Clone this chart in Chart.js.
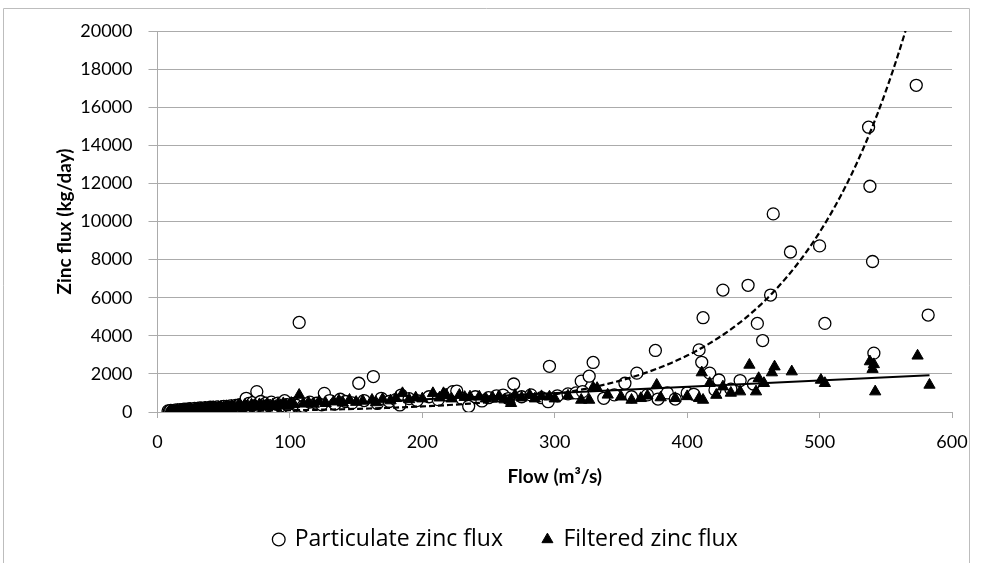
<!DOCTYPE html>
<html>
<head>
<meta charset="utf-8">
<script src="https://cdn.jsdelivr.net/npm/chart.js@4"></script>
<style>
  html, body { margin: 0; background: #fff; }
  #wrap { width: 983px; height: 563px; }
</style>
</head>
<body>
<div id="wrap"><canvas id="chart"></canvas></div>
<script>
// particulate zinc flux (open circles)
const particulateFlow = [
  8, 9, 10, 11, 12, 13, 14, 15, 16, 17, 18, 19, 20, 21, 22, 23, 24, 25, 26, 27,
  28, 29, 30, 31, 32, 33, 34, 35, 36, 37, 38, 39, 40, 41, 42, 43, 44, 45, 46, 47,
  48, 49, 50, 51, 52, 53, 54, 55, 56, 57, 58, 59, 60, 61, 62, 63, 64, 65, 66, 67,
  68, 69, 70, 71, 72, 74, 75, 76, 78, 80, 82, 84, 86, 88, 90, 91, 93, 96, 98, 100,
  103, 105, 107, 110,
  115, 120, 124, 126, 130, 134, 138, 142, 147, 152, 156, 163, 166, 169, 175, 180,
  183, 184, 190, 196, 205, 212, 218, 223, 226, 230, 235, 240, 245, 250, 256, 261,
  265, 269, 275, 282, 290, 295, 296, 302, 310, 316, 320, 321, 326, 329, 337, 345,
  353, 358, 362, 370, 376, 378, 385, 391, 400, 405, 409, 411, 412, 417, 421, 424,
  427, 433, 440, 446, 450, 453, 457, 463, 465, 478, 500, 504, 537, 538, 540, 541,
  573, 582
];
const particulateFlux = [
  60, 40, 90, 30, 70, 50, 110, 40, 80, 120, 60, 100, 150, 70, 130, 90, 170, 110, 60, 140,
  190, 100, 160, 80, 210, 130, 180, 100, 230, 150, 200, 120, 250, 170, 90, 220, 140, 270, 190, 110,
  240, 160, 300, 200, 130, 260, 180, 320, 220, 150, 280, 350, 200, 260, 380, 170, 300, 420, 230, 720,
  330, 450, 250, 380, 500, 300, 1070, 420, 550, 280, 470, 350, 520, 260, 400, 470, 320, 595, 380, 250,
  450, 350, 4700, 300,
  520, 460, 380, 980, 600, 420, 670, 550, 480, 1510, 600, 1860, 450, 720, 550, 650,
  370, 890, 700, 600, 800, 650, 900, 1070, 1100, 700, 300, 800, 580, 750, 850, 890,
  700, 1470, 800, 900, 750, 540, 2400, 850, 950, 1000, 1620, 1070, 1880, 2600, 720, 900,
  1510, 800, 2040, 900, 3230, 680, 1000, 680, 1000, 930, 3260, 2610, 4950, 2040, 1160, 1680,
  6400, 1200, 1650, 6650, 1470, 4650, 3750, 6140, 10400, 8400, 8720, 4650, 14950, 11850, 7900, 3090,
  17150, 5090
];

// filtered zinc flux (filled triangles)
const filteredFlow = [
  9, 10, 11, 12, 13, 14, 15, 16, 17, 18, 19, 20, 21, 22, 23, 24, 25, 26, 27, 28,
  29, 30, 31, 32, 33, 34, 35, 36, 37, 38, 39, 40, 41, 42, 43, 44, 45, 46, 47, 48,
  49, 50, 52, 53, 54, 55, 56, 57, 58, 60, 61, 62, 63, 65, 66, 67, 68, 70, 71, 72,
  74, 75, 77, 78, 80, 82, 83, 85, 87, 89, 91, 93, 95, 97, 99, 101, 103, 107, 110,
  114, 118, 122, 127, 133, 137, 140, 145, 150, 155, 162, 165, 170, 176, 180, 185,
  190, 195, 200, 208, 213, 216, 218, 222, 228, 232, 236, 243, 248, 253, 258, 262,
  266, 267, 270, 275, 281, 285, 290, 296, 300, 310, 320, 326, 329, 332, 340, 350,
  358, 365, 370, 377, 380, 391, 400, 409, 411, 412, 417, 422, 427, 433, 440, 447,
  452, 454, 458, 464, 466, 479, 501, 504, 538, 540, 541, 542, 574, 583
];
const filteredFlux = [
  30, 60, 20, 80, 40, 60, 100, 50, 90, 120, 70, 110, 140, 80, 130, 100, 160, 120, 80, 170,
  130, 190, 110, 150, 200, 130, 170, 220, 150, 190, 240, 160, 210, 260, 180, 230, 140, 250, 200, 280,
  170, 230, 300, 210, 260, 180, 320, 240, 290, 210, 340, 260, 300, 230, 360, 280, 330, 250, 380, 300,
  350, 270, 400, 320, 360, 280, 420, 340, 380, 300, 420, 350, 450, 380, 320, 470, 400, 890, 430,
  500, 420, 550, 460, 540, 600, 480, 630, 520, 580, 630, 500, 680, 600, 720, 980,
  660, 750, 700, 980, 750, 980, 890, 700, 890, 780, 800, 800, 700, 760, 820, 650,
  630, 460, 890, 750, 890, 700, 820, 800, 700, 850, 630, 630, 1280, 1250, 900, 800,
  630, 720, 850, 1420, 760, 720, 820, 720, 2070, 630, 1510, 890, 1330, 1000, 1070, 2470,
  1070, 1770, 1510, 2070, 2380, 2120, 1680, 1510, 2650, 2250, 2500, 1070, 2950, 1420
];

const xTicks = [0, 100, 200, 300, 400, 500, 600];
const yTicks = [0, 2000, 4000, 6000, 8000, 10000, 12000, 14000, 16000, 18000, 20000];

// trendline coefficients
const linSlope = 3.3;
const linIntercept = 0;
const expA = 28.7;
const expB = 0.01159;

const toPoints = (xs, ys) => xs.map((x, i) => ({ x: x, y: ys[i] }));

const flowMin = Math.min(...particulateFlow);
const flowMax = Math.max(...filteredFlow);

const linearTrend = [flowMin, flowMax].map(x => ({ x: x, y: linSlope * x + linIntercept }));
const expTrend = [];
for (let x = flowMin; x <= 580; x += 4) {
  expTrend.push({ x: x, y: expA * Math.exp(expB * x) });
}

const gridGray = '#ababab';
const padLeft = 60;

// outer frame plus the two axis titles (placed like the original)
const chartFrame = {
  id: 'chartFrame',
  afterDraw(chart) {
    const c = chart.ctx;
    const area = chart.chartArea;
    c.save();
    c.strokeStyle = '#bdbdbd';
    c.lineWidth = 1;
    c.beginPath();
    c.moveTo(3.5, 563);
    c.lineTo(3.5, 8.5);
    c.lineTo(969.5, 8.5);
    c.lineTo(969.5, 563);
    c.stroke();

    c.fillStyle = '#000';
    c.font = 'bold 19px Lato';
    c.textAlign = 'center';
    c.textBaseline = 'middle';
    c.fillText('Flow (m³/s)', (area.left + area.right) / 2, 477);

    c.translate(65, (area.top + area.bottom) / 2);
    c.rotate(-Math.PI / 2);
    c.fillText('Zinc flux (kg/day)', 0, 0);
    c.restore();
  }
};

new Chart(document.getElementById('chart'), {
  type: 'scatter',
  data: {
    datasets: [
      {
        label: 'Particulate zinc flux',
        data: toPoints(particulateFlow, particulateFlux),
        pointStyle: 'circle',
        pointRadius: 6,
        pointBorderWidth: 1.3,
        borderColor: '#000',
        backgroundColor: '#fff',
        order: 3
      },
      {
        label: 'Filtered zinc flux',
        data: toPoints(filteredFlow, filteredFlux),
        pointStyle: 'triangle',
        pointRadius: 6.5,
        pointBorderWidth: 1,
        borderColor: '#000',
        backgroundColor: '#000',
        order: 2
      },
      {
        label: 'linear',
        type: 'line',
        data: linearTrend,
        borderColor: '#000',
        borderWidth: 2,
        pointRadius: 0,
        fill: false,
        order: 1
      },
      {
        label: 'expon',
        type: 'line',
        data: expTrend,
        borderColor: '#000',
        borderWidth: 2.2,
        borderDash: [6, 3],
        pointRadius: 0,
        tension: 0,
        fill: false,
        order: 0
      }
    ]
  },
  options: {
    responsive: true,
    maintainAspectRatio: false,
    animation: false,
    devicePixelRatio: 1,
    layout: {
      padding: { top: 31, right: 31, left: padLeft, bottom: 15 }
    },
    scales: {
      x: {
        type: 'linear',
        min: xTicks[0],
        max: xTicks[xTicks.length - 1],
        afterBuildTicks: s => { s.ticks = xTicks.map(v => ({ value: v })); },
        afterFit: s => { s.height = 76; },
        ticks: {
          color: '#000',
          font: { family: 'Lato', size: 18 },
          padding: 13,
          maxRotation: 0
        },
        grid: {
          drawOnChartArea: false,
          tickLength: 6,
          color: gridGray
        },
        border: { color: gridGray }
      },
      y: {
        min: yTicks[0],
        max: yTicks[yTicks.length - 1],
        afterBuildTicks: s => { s.ticks = yTicks.map(v => ({ value: v })); },
        afterFit: s => { s.width = 157.5 - padLeft; },
        ticks: {
          color: '#000',
          font: { family: 'Lato', size: 18 },
          padding: 16,
          callback: v => String(v)
        },
        grid: {
          color: gridGray,
          tickLength: 9
        },
        border: { color: gridGray }
      }
    },
    plugins: {
      legend: {
        position: 'bottom',
        maxHeight: 60,
        labels: {
          filter: item => item.datasetIndex < 2,
          sort: (a, b) => a.datasetIndex - b.datasetIndex,
          usePointStyle: true,
          boxWidth: 9,
          boxHeight: 9,
          padding: 40,
          color: '#000',
          font: { family: 'Open Sans', size: 23 }
        }
      },
      tooltip: { enabled: false }
    }
  },
  plugins: [chartFrame]
});
</script>
</body>
</html>
